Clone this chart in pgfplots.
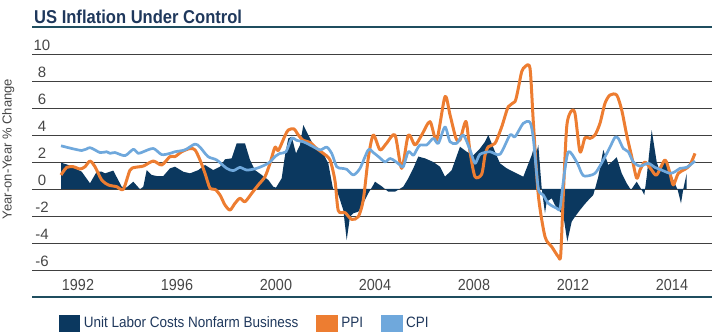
\documentclass[border=0pt]{standalone}
\usepackage{fontspec}
\setmainfont{Liberation Sans}
\newfontfamily\titlefont{Liberation Sans}[FakeStretch=0.89]
\newfontfamily\condfont{Liberation Sans}[FakeStretch=0.9]
\usepackage{pgfplots}
\pgfplotsset{compat=1.18}
\definecolor{navyc}{RGB}{11,56,95}
\definecolor{orangec}{RGB}{237,125,49}
\definecolor{bluec}{RGB}{111,168,220}
\definecolor{gridc}{RGB}{64,64,64}
\definecolor{tickc}{RGB}{70,70,70}
\definecolor{titlec}{RGB}{31,56,92}
\definecolor{botc}{RGB}{31,78,95}
\begin{document}
\begin{tikzpicture}
\useasboundingbox (-32bp,-39bp) rectangle (680bp,297bp);
\begin{axis}[
  at={(0,0)}, anchor=south west,
  scale only axis, width=680bp, height=270bp,
  xmin=32, xmax=712, ymin=-8, ymax=12,
  axis line style={draw=none},
  major tick length=0pt,
  tick style={draw=none},
  ytick={-6,-4,-2,0,2,4,6,8,10},
  yticklabels={-6,-4,-2,0,2,4,6,8,10},
  yticklabel style={anchor=base, xshift=10bp, yshift=3.3bp, inner sep=0pt,
    font=\fontsize{15bp}{18bp}\selectfont, text=tickc},
  ymajorgrids,
  grid style={color=gridc, line width=0.9bp},
  extra y ticks={-8,12},
  extra y tick labels={},
  extra y tick style={grid style={color=botc, line width=1.1bp}},
  xtick={78,177,276,375,474,573,672},
  xticklabels={1992,1996,2000,2004,2008,2012,2014},
  xticklabel style={anchor=center, yshift=12bp, inner sep=0pt,
    font=\condfont\fontsize{16bp}{18bp}\selectfont, text=tickc},
  ylabel={Year-on-Year \% Change},
  every axis y label/.style={at={(axis description cs:-0.0349,0.548)}, rotate=90, anchor=center,
    font=\fontsize{13bp}{15bp}\selectfont, text=tickc},
  legend columns=-1,
  legend style={at={(axis description cs:0.0397,-0.0963)}, anchor=west, draw=none, fill=none,
    inner sep=0pt, outer sep=0pt,
    font=\condfont\fontsize{15bp}{18bp}\selectfont, text=titlec,
    nodes={inner sep=0pt},
    /tikz/every odd column/.append style={column sep=4bp},
    /tikz/every even column/.append style={column sep=18bp}},
]
% Unit labor costs (area)
\addplot[fill=navyc, draw=none, forget plot] coordinates {
(61,0) (61,1.95) (68.3,1.78) (81.7,1.28) (90,0.42) (96.7,1.28) (101.7,1.28) (105,1.16) (113.3,1.36)
(121.7,0.17) (126.7,0.12) (133.3,0.54) (140,-0.02) (143.3,0.17) (146.7,1.4) (151.7,1.04) (156.7,0.96)
(163.3,0.96) (170,1.53) (175,1.65) (183.3,1.28) (190,1.16) (198.3,1.4) (205,1.78) (213.3,1.4) (220,1.65)
(225,2.2) (231.7,2.27) (236.7,3.38) (245,3.38) (250,2.15) (255,1.4) (261.7,1.04) (268.3,0.67) (273.3,0.17)
(276,0.1) (281.7,0.79) (285,2.5) (288.3,3.75) (291.7,3.87) (296,2.64) (300,3.26) (303.3,4.74) (308.3,4.0)
(313.3,3.26) (318.3,2.9) (323.3,2.64) (328.3,1.9) (331.7,0.54) (333.3,-0.07) (336.7,-0.07) (340,-0.81)
(343.3,-1.56) (346.7,-3.78) (350,-2.05) (353.3,-1.8) (358.3,-1.68) (363.3,-1.06) (368.3,-0.32) (373.3,0.3)
(375,0.54) (381.7,0.2) (388.3,-0.2) (395,-0.2) (403.3,0.17) (408.3,0.79) (413.3,1.53) (418.3,2.4) (425,2.27)
(433.3,2.0) (440,1.65) (445,0.91) (451.7,1.4) (460,3.13) (466.7,2.76) (473.3,2.5) (480,3.0) (485,3.5)
(488.3,4.0) (495,2.76) (500,1.9) (506.7,1.53) (523.3,0.91) (531.7,2.5) (535,3.38) (536.7,2.76) (538.3,3.26)
(541.7,0.05) (545,-1.8) (546.7,-0.94) (551.7,-0.69) (555,-1.19) (560,-1.68) (563.3,-1.93) (567.3,-3.9)
(571.7,-2.42) (575,-2.05) (580,-1.56) (585,-1.1) (590,-0.69) (593.3,-0.44) (595,0) (598.3,0.91) (603.3,2.9)
(608.3,1.78) (611.7,2.0) (616.7,2.35) (621.7,1.16) (626.7,0.42) (631,-0.07) (636.7,0.54) (641.7,-0.07)
(644.3,-0.44) (646.7,0.91) (651.7,4.37) (656.7,2.0) (660,1.28) (665,2.15) (670,1.28) (673.3,0.67)
(677.7,-0.07) (681,-1.06) (683.3,0) (686.7,1.16) (686.7,0)
};
% PPI
\addplot[draw=orangec, line width=3bp, smooth, tension=0.45, line join=round, forget plot] coordinates {
(61,1.04) (66.7,1.6) (73.3,1.65) (80,1.48) (85,1.65) (90,2.07) (95,1.65) (101.7,0.67) (108.3,0.3)
(116.7,0.17) (123.3,-0.02) (130,1.4) (135,1.6) (143.3,1.7) (153.3,2.07) (161.7,1.78) (170,2.4) (175,2.4)
(181.7,2.76) (190,3.0) (195,2.9) (200,2.15) (205,1.16) (210,0.05) (215,-0.02) (220,-0.44) (225,-1.19)
(230,-1.56) (235,-1.06) (240,-0.69) (245,-0.94) (251.7,-0.32) (258.3,0.3) (265,0.91) (270,1.9) (275,3.1)
(278.3,2.85) (285,3.95) (288.3,4.37) (294,4.45) (298.3,4.0) (303.3,3.6) (310,3.45) (316.7,3.0) (323.3,2.64)
(330,2.15) (335,0.6) (338.3,-1.6) (345,-1.75) (351.7,-2.25) (358.3,-2.05) (363.3,-0.8) (368.3,2.3)
(373.3,4.0) (380,2.9) (386.7,3.4) (395,4.0) (401.7,1.53) (408.3,4.0) (415,3.26) (421.7,4.0) (430,4.99)
(436.7,3.63) (445,6.84) (450,5.5) (456,3.75) (460,3.63) (466,5.0) (470,2.76) (475,0.91) (481.7,1.1)
(485,2.5) (488.3,3.13) (495,3.38) (501.7,4.6) (508.3,6.1) (515,6.47) (518.3,7.46) (521.7,8.69) (525,9.06)
(530,8.94) (533.3,4.99) (538.3,-0.44) (545,-3.53) (551.7,-4.27) (558.3,-5.01) (560.7,-4.89) (563.3,-0.44)
(566.7,4.6) (571,5.75) (575,5.6) (580,2.76) (585,3.8) (590,3.75) (595,4.0) (600,4.87) (605,6.35) (610,6.96)
(616.7,6.96) (621.7,5.85) (626.7,4.0) (631.7,2.4) (636.7,0.79) (640,1.4) (645,2.0) (651.7,1.4) (656.7,1.04)
(665,2.15) (670,1.16) (673.3,0.3) (678.3,1.16) (685,1.46) (690,1.78) (695,2.64)
};
% CPI
\addplot[draw=bluec, line width=2.7bp, smooth, tension=0.45, line join=round, forget plot] coordinates {
(61,3.2) (81.7,2.85) (90,3.06) (100,2.7) (106.7,2.76) (110,2.64) (115,2.7) (125,2.47) (133.3,2.94)
(138.3,2.64) (143.3,2.76) (153.3,3.0) (161.7,2.55) (170,2.64) (175,2.76) (185,2.9) (195,3.33) (200,3.1)
(208,2.4) (216.7,2.15) (226.7,1.53) (233.3,1.36) (240,1.6) (246.7,1.4) (256.7,1.53) (265,1.78) (270,2.0)
(275,2.4) (280,2.64) (286,2.76) (291.7,3.75) (296.7,3.6) (303.3,3.5) (310,3.26) (320,2.9) (326.7,3.1)
(331.7,2.64) (336.7,1.65) (341.7,1.53) (346.7,1.46) (353.3,1.04) (360,1.53) (368.3,2.9) (373.3,2.7)
(380,2.3) (385,2.0) (390,2.26) (395,2.07) (400,1.78) (403.3,1.65) (408.3,2.76) (413.3,2.5) (416.7,2.9)
(420,3.26) (426.7,3.26) (433.3,3.75) (438.3,3.38) (445,4.6) (450,3.5) (456.7,3.38) (463.3,4.0) (470,2.9)
(475,1.9) (480,2.57) (490,2.76) (500,2.57) (510,4.0) (515,3.87) (523.3,4.87) (530,4.94) (533.3,3.75)
(538.3,0.05) (543.3,-0.44) (548.3,-1.06) (556.7,-1.43) (560,-1.43) (563.3,0.54) (568.3,2.76) (576.7,2.0)
(581.7,1.16) (585,0.95) (595,1.16) (603.3,2.15) (610,3.1) (615,3.83) (618.3,3.75) (623.3,3.0) (628.3,2.76)
(633.3,2.0) (640,1.7) (648.3,1.9) (655,1.6) (661.7,1.4) (670,1.16) (675,1.28) (680,1.53) (686.7,1.6)
(695,2.07)
};
\addlegendimage{legend image code/.code={\fill[navyc] (0bp,-8bp) rectangle (20.5bp,8bp);}}
\addlegendentry{Unit Labor Costs Nonfarm Business}
\addlegendimage{legend image code/.code={\fill[orangec] (0bp,-8bp) rectangle (20.5bp,8bp);}}
\addlegendentry{PPI}
\addlegendimage{legend image code/.code={\fill[bluec] (0bp,-8bp) rectangle (20.5bp,8bp);}}
\addlegendentry{CPI}
\end{axis}
\node[anchor=base west, inner sep=0pt, text=titlec, font=\titlefont\bfseries\fontsize{18.6bp}{20bp}\selectfont]
  at (2bp,273.7bp) {US Inflation Under Control};
\end{tikzpicture}
\end{document}
